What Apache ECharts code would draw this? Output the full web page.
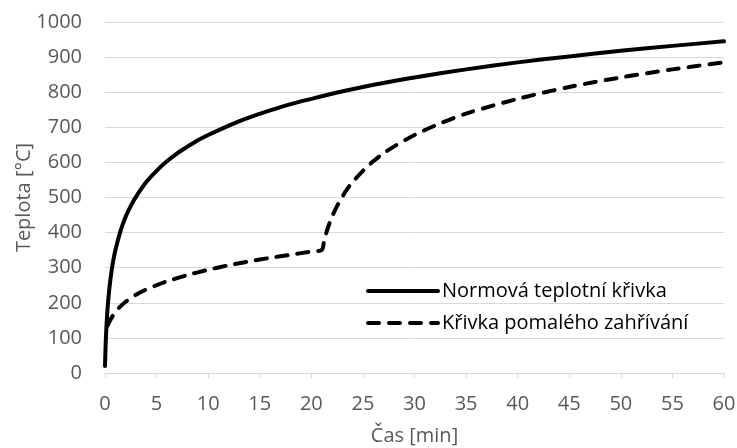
<!DOCTYPE html>
<html>
<head>
<meta charset="utf-8">
<script src="https://cdn.jsdelivr.net/npm/echarts@6/dist/echarts.min.js"></script>
<style>html,body{margin:0;padding:0;background:#fff}#c{width:737px;height:448px}</style>
</head>
<body>
<div id="c"></div>
<script>
// Normová teplotní křivka
var stdTime = [0, 0.05, 0.1, 0.2, 0.3, 0.5, 0.75, 1, 1.5, 2, 2.5, 3, 4, 5, 6, 7, 8, 9, 10, 12, 14, 16, 18, 20, 22.5, 25, 27.5, 30, 35, 40, 45, 50, 55, 60];
var stdTemp = [20, 70, 108, 163, 203, 261, 312, 349, 404, 445, 476, 502, 544, 576, 603, 626, 645, 663, 678, 705, 728, 748, 766, 781, 799, 815, 829, 842, 865, 885, 902, 918, 932, 945];
// Křivka pomalého zahřívání
var slowTime = [0.25, 0.5, 1, 1.5, 2, 3, 4, 5, 6, 8, 10, 12, 14, 16, 18, 20, 21, 21.25, 21.5, 21.75, 22, 22.5, 23, 23.5, 24, 25, 26, 27, 28, 30, 32, 35, 40, 45, 50, 55, 60];
var slowTemp = [135, 150, 174, 190, 203, 223, 238, 250, 261, 279, 294, 307, 318, 328, 337, 346, 350, 379, 404, 426, 445, 476, 502, 525, 544, 576, 603, 626, 645, 678, 705, 739, 781, 815, 842, 865, 885];
var seriesNames = ['Normová teplotní křivka', 'Křivka pomalého zahřívání'];
var xTitle = 'Čas [min]';
var yTitle = 'Teplota [°C]';

function pairs(xs, ys) { return xs.map(function (x, i) { return [x, ys[i]]; }); }

var chart = echarts.init(document.getElementById('c'), null, { renderer: 'canvas' });
var font = 'Open Sans';
var fs = 20;
chart.setOption({
  animation: false,
  backgroundColor: '#ffffff',
  grid: { left: 105, right: 13, top: 22, bottom: 75, containLabel: false, outerBoundsMode: 'none' },
  xAxis: {
    type: 'value', min: 0, max: 60, interval: 5,
    name: xTitle, nameLocation: 'middle', nameGap: 53,
    nameTextStyle: { color: '#595959', fontSize: fs, fontFamily: font },
    axisLine: { show: true, lineStyle: { color: '#d9d9d9', width: 1 } },
    axisTick: { show: true, length: 5, lineStyle: { color: '#d9d9d9' } },
    axisLabel: { color: '#595959', fontSize: fs, fontFamily: font, margin: 21 },
    splitLine: { show: false }
  },
  yAxis: {
    type: 'value', min: 0, max: 1000, interval: 100,
    name: yTitle, nameLocation: 'middle', nameGap: 71, nameRotate: 90,
    nameMoveOverlap: false,
    nameTextStyle: { color: '#595959', fontSize: fs, fontFamily: font },
    axisLine: { show: false },
    axisTick: { show: false },
    axisLabel: { color: '#595959', fontSize: fs, fontFamily: font, margin: 23,
      formatter: function (v) { return String(v); } },
    splitLine: { show: true, lineStyle: { color: '#d9d9d9', width: 1 } }
  },
  legend: {
    orient: 'vertical', left: 361, top: 276, itemGap: 12,
    itemWidth: 70, itemHeight: 18,
    itemStyle: { opacity: 0 },
    lineStyle: { width: 4, cap: 'round' },
    textStyle: { color: '#000', fontSize: fs, fontFamily: font, padding: [0, 0, 0, -1] },
    data: seriesNames
  },
  series: [
    {
      name: seriesNames[0], type: 'line', symbol: 'none', showSymbol: false,
      smooth: 0.3, data: pairs(stdTime, stdTemp),
      lineStyle: { color: '#000', width: 4, cap: 'round', join: 'round' },
      itemStyle: { color: '#000' }
    },
    {
      name: seriesNames[1], type: 'line', symbol: 'none', showSymbol: false,
      smooth: 0.3, data: pairs(slowTime, slowTemp),
      lineStyle: { color: '#000', width: 4, type: [11, 10], cap: 'round', join: 'round' },
      itemStyle: { color: '#000' }
    }
  ]
});
</script>
</body>
</html>
